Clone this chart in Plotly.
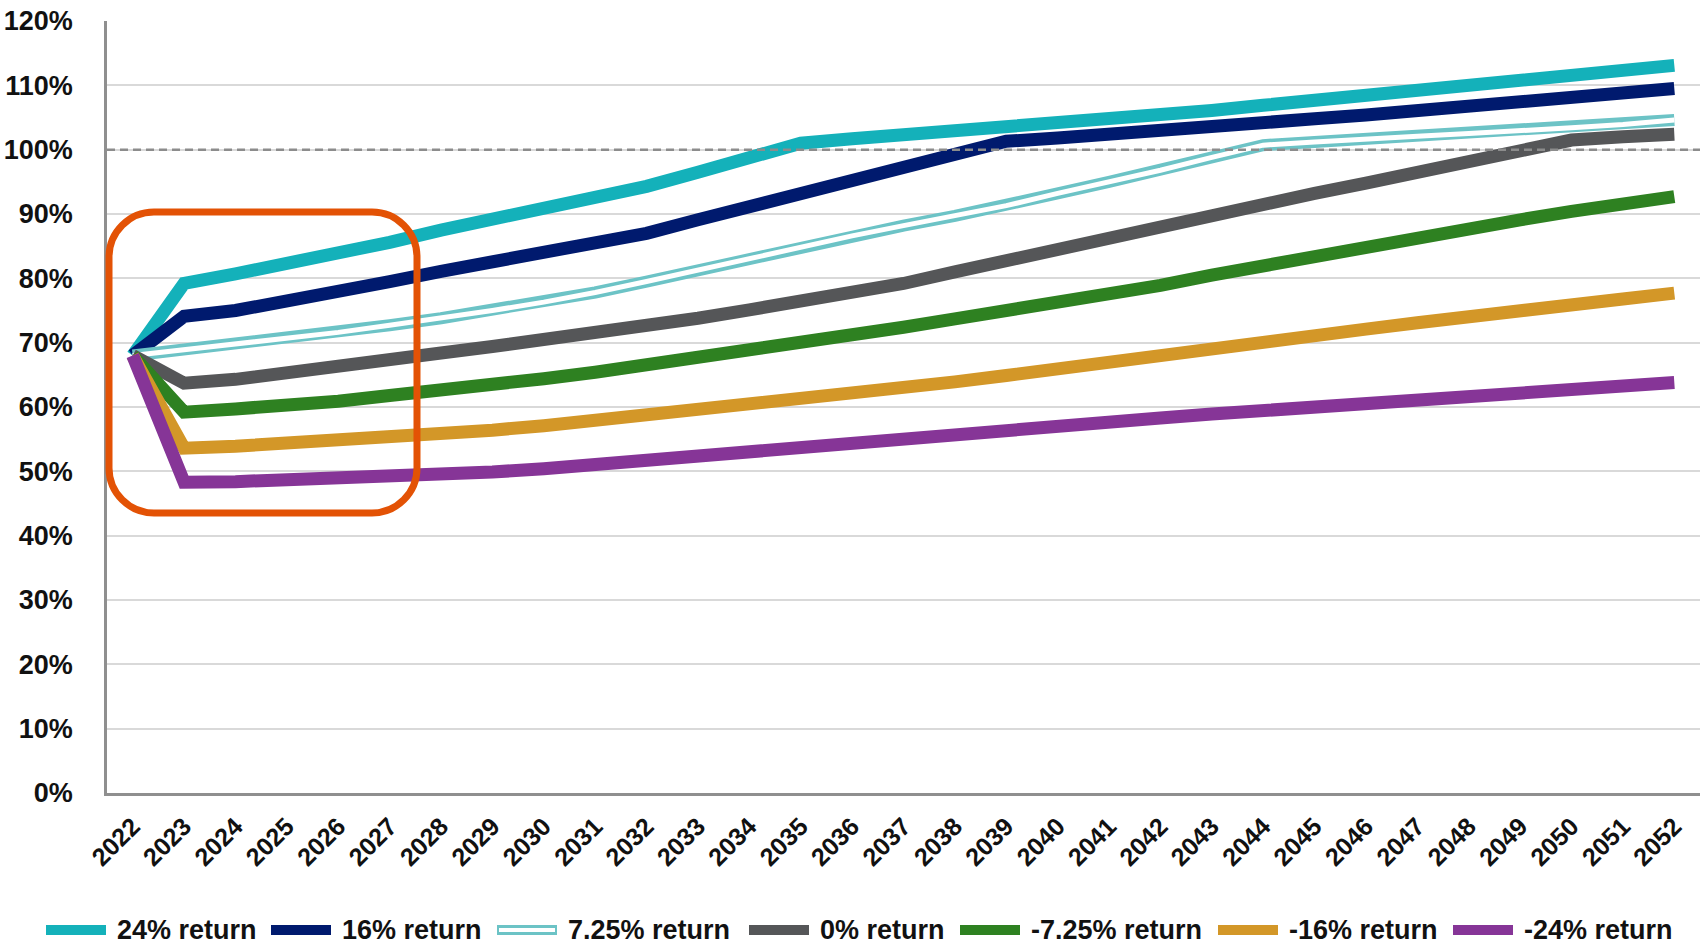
import plotly.graph_objects as go

years = list(range(2022, 2053))

r24 = [68, 79.2, 80.7, 82.2, 83.7, 85.6, 87.5, 89.2, 90.6, 92.3, 94.3, 96.5, 98.8, 101.0, 101.7, 102.3,
       102.8, 103.2, 103.9, 104.7, 105.4, 106.1, 106.9, 107.7, 108.4, 109.3, 110.2, 111.0, 111.7, 112.4, 113.1]
r16 = [68, 74.1, 75.0, 76.4, 77.7, 79.5, 81.1, 82.6, 83.8, 85.5, 87.0, 89.1, 91.2, 93.3, 95.3, 97.3,
       99.3, 101.3, 101.8, 102.3, 102.9, 103.5, 104.1, 104.8, 105.4, 106.1, 106.8, 107.5, 108.2, 108.8, 109.5]
r725 = [68, 68.9, 69.7, 70.6, 71.6, 72.7, 73.8, 75.0, 76.3, 77.8, 79.5, 81.3, 83.1, 84.9, 86.6, 88.2,
        89.7, 91.3, 93.2, 95.0, 96.8, 98.8, 100.7, 101.2, 101.7, 102.1, 102.5, 102.9, 103.4, 103.9, 104.6]
r0 = [68, 63.7, 64.3, 65.2, 66.1, 67.2, 68.4, 69.4, 70.4, 71.6, 72.7, 73.8, 75.1, 76.4, 77.7, 79.2,
      81.0, 82.8, 84.6, 86.3, 88.0, 89.8, 91.6, 93.2, 94.8, 96.5, 98.1, 99.8, 101.5, 102.0, 102.4]
rm725 = [68, 59.2, 59.7, 60.2, 60.9, 61.8, 62.5, 63.5, 64.4, 65.4, 66.5, 67.6, 68.7, 69.9, 71.1, 72.4,
         73.7, 74.9, 76.2, 77.5, 78.9, 80.5, 82.0, 83.4, 84.9, 86.4, 87.8, 89.1, 90.4, 91.6, 92.7]
rm16 = [68, 53.6, 53.9, 54.3, 54.7, 55.2, 55.7, 56.4, 57.1, 57.9, 58.7, 59.5, 60.5, 61.3, 62.1, 62.9,
        63.9, 64.9, 66.0, 67.0, 67.9, 68.9, 69.9, 71.0, 72.1, 73.1, 73.9, 74.9, 75.9, 76.8, 77.7]
rm24 = [68, 48.3, 48.4, 48.6, 48.8, 49.1, 49.5, 49.9, 50.4, 51.1, 51.7, 52.4, 53.1, 53.8, 54.5, 55.1,
        55.6, 56.2, 56.9, 57.6, 58.3, 58.9, 59.5, 60.0, 60.5, 61.1, 61.7, 62.2, 62.7, 63.2, 63.8]

series_names = ["24% return", "16% return", "7.25% return", "0% return",
                "-7.25% return", "-16% return", "-24% return"]
series_values = [r24, r16, r725, r0, rm725, rm16, rm24]
series_colors = ["#14B1BA", "#001A6E", "#6CC3C6", "#555658", "#2E8121", "#D39728", "#863597"]
y_ticks = list(range(0, 121, 10))

W, H = 1702, 946
ML, MR, MT, MB = 107, 2, 21, 153
PW, PH = W - ML - MR, H - MT - MB
FONT = "Liberation Sans, Arial, sans-serif"


def px(x):
    return (x - ML) / PW


def py(y):
    return (H - MB - y) / PH


fig = go.Figure()
for name, vals, col in zip(series_names, series_values, series_colors):
    if name == "7.25% return":
        fig.add_trace(go.Scatter(x=years, y=vals, mode="lines", name=name,
                                 line=dict(color=col, width=12), showlegend=False, hoverinfo="skip"))
        fig.add_trace(go.Scatter(x=years, y=vals, mode="lines", name=name,
                                 line=dict(color="white", width=5), showlegend=False))
    else:
        fig.add_trace(go.Scatter(x=years, y=vals, mode="lines", name=name,
                                 line=dict(color=col, width=13), showlegend=False))

shapes = []
# dashed 100% reference line
shapes.append(dict(type="line", xref="paper", yref="y", x0=0, x1=1, y0=100, y1=100,
                   line=dict(color="#8C8C8C", width=2.5, dash="8px,5px"), layer="above"))

# orange rounded rectangle highlight
x0, x1, y0, y1, r = 109, 417, 212, 513, 45
k = 0.5523 * r


def P(x, y):
    return f"{px(x):.5f},{py(y):.5f}"


path = (f"M {P(x0 + r, y0)} L {P(x1 - r, y0)} "
        f"C {P(x1 - r + k, y0)} {P(x1, y0 + r - k)} {P(x1, y0 + r)} "
        f"L {P(x1, y1 - r)} "
        f"C {P(x1, y1 - r + k)} {P(x1 - r + k, y1)} {P(x1 - r, y1)} "
        f"L {P(x0 + r, y1)} "
        f"C {P(x0 + r - k, y1)} {P(x0, y1 - r + k)} {P(x0, y1 - r)} "
        f"L {P(x0, y0 + r)} "
        f"C {P(x0, y0 + r - k)} {P(x0 + r - k, y0)} {P(x0 + r, y0)} Z")
shapes.append(dict(type="path", xref="paper", yref="paper", path=path,
                   line=dict(color="#E35205", width=7), layer="above"))

# manual legend
leg_x = [46, 271, 497, 749, 960, 1218, 1453]
leg_y = 930
annotations = []
for name, col, lx in zip(series_names, series_colors, leg_x):
    if name == "7.25% return":
        shapes.append(dict(type="line", xref="paper", yref="paper", x0=px(lx), x1=px(lx + 60),
                           y0=py(leg_y), y1=py(leg_y), line=dict(color=col, width=10)))
        shapes.append(dict(type="line", xref="paper", yref="paper", x0=px(lx + 2), x1=px(lx + 58),
                           y0=py(leg_y), y1=py(leg_y), line=dict(color="white", width=4)))
    else:
        shapes.append(dict(type="line", xref="paper", yref="paper", x0=px(lx), x1=px(lx + 60),
                           y0=py(leg_y), y1=py(leg_y), line=dict(color=col, width=10)))
    annotations.append(dict(x=px(lx + 69), y=py(leg_y), xref="paper", yref="paper", text=name,
                            showarrow=False, xanchor="left", yanchor="middle",
                            font=dict(family=FONT, size=27, color="#111111", weight="bold")))

fig.update_layout(
    width=W, height=H,
    margin=dict(l=ML, r=MR, t=MT, b=MB),
    paper_bgcolor="white", plot_bgcolor="white",
    shapes=shapes, annotations=annotations,
    showlegend=False,
    font=dict(family=FONT, color="#111111"),
)
fig.update_xaxes(
    range=[2021.5, 2052.5], tickvals=years, ticktext=[str(y) for y in years],
    tickangle=-45, showgrid=False, zeroline=False,
    showline=True, linecolor="#8F8F8F", linewidth=2.5,
    ticks="", ticklabelstandoff=6,
    tickfont=dict(family=FONT, size=25, color="#111111", weight="bold"),
)
fig.update_yaxes(
    range=[0, 120], tickvals=y_ticks, ticktext=[f"{v}%" for v in y_ticks],
    showgrid=True, gridcolor="#D9D9D9", gridwidth=2, zeroline=False,
    showline=True, linecolor="#8F8F8F", linewidth=2.5,
    ticks="", ticklabelstandoff=26,
    tickfont=dict(family=FONT, size=27, color="#111111", weight="bold"),
)

fig.write_html("out.html")
